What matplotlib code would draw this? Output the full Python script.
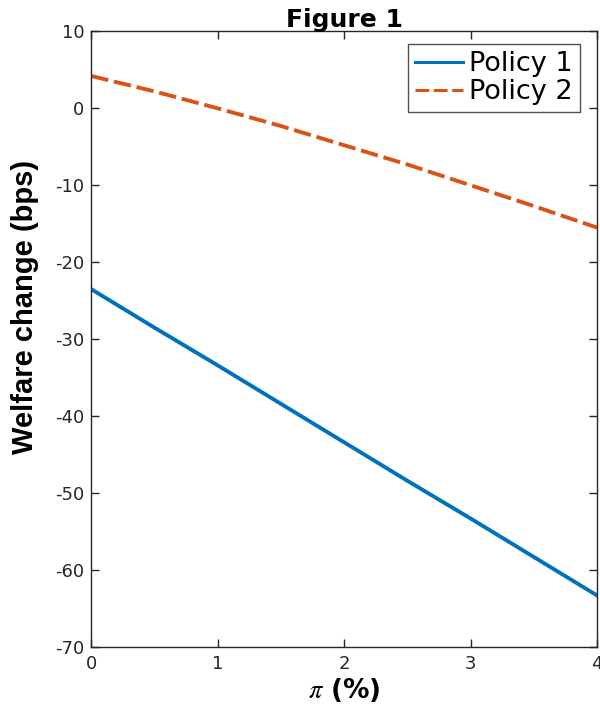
import matplotlib
matplotlib.use("Agg")
import matplotlib.pyplot as plt

# values
pi_vals = [0, 0.5, 1, 1.5, 2, 2.5, 3, 3.5, 4]
policy1 = [-23.5, -28.5, -33.4, -38.4, -43.4, -48.4, -53.3, -58.3, -63.3]
policy2 = [4.2, 2.2, 0.0, -2.3, -4.8, -7.3, -10.0, -12.7, -15.5]
x_ticks = [0, 1, 2, 3, 4]
y_ticks = [10, 0, -10, -20, -30, -40, -50, -60, -70]

plt.rcParams['font.family'] = ['DejaVu Sans']
plt.rcParams['mathtext.fontset'] = 'stix'
plt.rcParams['axes.unicode_minus'] = False

fig = plt.figure(figsize=(6.0, 7.06), dpi=100)
ax = fig.add_axes([0.152, 0.0836, 0.843, 0.872])

ax.plot(pi_vals, policy1, color='#0072BD', lw=2.8, label='Policy 1')
ax.plot(pi_vals, policy2, color='#D95319', lw=2.8, dashes=(4.5, 1.5), label='Policy 2')

ax.set_xlim(0, 4)
ax.set_ylim(-70, 10)
ax.set_xticks(x_ticks)
ax.set_yticks(y_ticks)
ax.tick_params(direction='in', length=5.5, width=1, top=True, right=True,
               labelsize=13, colors='#262626')
ax.tick_params(axis='x', pad=6)
ax.tick_params(axis='y', pad=5)
for s in ax.spines.values():
    s.set_color('#262626')
    s.set_linewidth(1)

ax.set_title('Figure 1', fontsize=18, fontweight='bold', pad=3)
ax.set_ylabel('Welfare change (bps)', fontsize=21, fontweight='bold',
              family='Liberation Sans')
ax.yaxis.set_label_coords(-0.103, 0.552)
ax.set_xlabel(r'$\pi$ (%)', fontsize=19, fontweight='bold', labelpad=2)

leg = ax.legend(loc='upper right', bbox_to_anchor=(0.966, 0.979),
                fontsize=19.5, frameon=True, fancybox=False,
                edgecolor='#262626', handlelength=1.75, borderpad=0.25,
                labelspacing=0.08, handletextpad=0.25, borderaxespad=0)
leg.get_frame().set_linewidth(1)
for ln in leg.get_lines():
    ln.set_linewidth(2.2)

fig.savefig('out.png', dpi=100)
